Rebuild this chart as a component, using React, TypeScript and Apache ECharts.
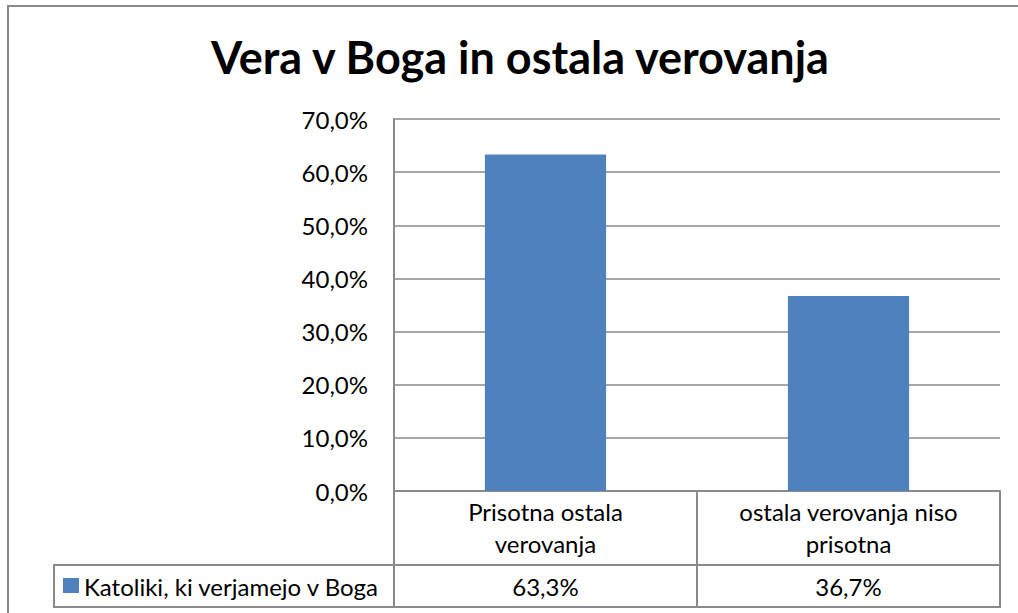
import React, { useEffect, useRef } from "react";
import * as echarts from "echarts";

const chartTitle = "Vera v Boga in ostala verovanja";
const seriesName = "Katoliki, ki verjamejo v Boga";
const categories = ["Prisotna ostala verovanja", "ostala verovanja niso prisotna"];
const values = [63.3, 36.7];
const yTicks = { min: 0, max: 70, interval: 10 };

const FONT = "Lato, 'Open Sans', sans-serif";
const GRID = "#8a8a8a";
const BAR = "#4F81BD";

const fmtPct = (v: number) => v.toFixed(1).replace(".", ",") + "%";

function wrap(s: string, max: number) {
  const words = s.split(" ");
  const lines: string[] = [];
  let cur = "";
  for (const w of words) {
    const next = cur ? cur + " " + w : w;
    if (next.length > max && cur) {
      lines.push(cur);
      cur = w;
    } else cur = next;
  }
  if (cur) lines.push(cur);
  return lines.join("\n");
}

export default function App() {
  const ref = useRef<HTMLDivElement>(null);
  useEffect(() => {
    if (!ref.current) return;
    const chart = echarts.init(ref.current, null, { renderer: "svg" });
    const lineStyle = { stroke: GRID, lineWidth: 2 };
    chart.setOption({
      animation: false,
      backgroundColor: "#ffffff",
      grid: { left: 394, right: 18, top: 119, bottom: 122, containLabel: false },
      xAxis: [
        {
          type: "category",
          data: categories,
          position: "bottom",
          axisLine: { show: true, lineStyle: { color: GRID, width: 2 } },
          axisTick: { show: true, length: 116, lineStyle: { color: GRID, width: 2 } },
          axisLabel: {
            margin: 4,
            fontFamily: FONT,
            fontSize: 24,
            lineHeight: 32,
            color: "#000",
            verticalAlign: "top",
            formatter: (v: string) => wrap(v, 21),
          },
        },
        {
          type: "category",
          data: values.map(fmtPct),
          position: "bottom",
          axisLine: { show: false },
          axisTick: { show: false },
          axisLabel: {
            margin: 79,
            fontFamily: FONT,
            fontSize: 24,
            lineHeight: 32,
            color: "#000",
            verticalAlign: "top",
          },
        },
      ],
      yAxis: {
        type: "value",
        min: yTicks.min,
        max: yTicks.max,
        interval: yTicks.interval,
        axisLine: { show: true, lineStyle: { color: GRID, width: 2 } },
        axisTick: { show: false },
        splitLine: { show: true, lineStyle: { color: GRID, width: 1.5 } },
        axisLabel: {
          margin: 26,
          fontFamily: FONT,
          fontSize: 24,
          color: "#000",
          formatter: (v: number) => fmtPct(v),
        },
      },
      series: [
        {
          name: seriesName,
          type: "bar",
          data: values,
          barWidth: "40%",
          itemStyle: { color: BAR },
        },
      ],
      graphic: [
        { type: "line", shape: { x1: 8, y1: 6, x2: 8, y2: 613 }, style: lineStyle, silent: true },
        { type: "line", shape: { x1: 7, y1: 6, x2: 1018, y2: 6 }, style: lineStyle, silent: true },
        { type: "line", shape: { x1: 54, y1: 565, x2: 1000, y2: 565 }, style: lineStyle, silent: true },
        { type: "line", shape: { x1: 54, y1: 607, x2: 1001, y2: 607 }, style: lineStyle, silent: true },
        { type: "line", shape: { x1: 54, y1: 564, x2: 54, y2: 608 }, style: lineStyle, silent: true },
        { type: "rect", shape: { x: 63, y: 578, width: 16, height: 15 }, style: { fill: BAR }, silent: true },
        {
          type: "text",
          x: 84,
          y: 586,
          style: {
            text: seriesName,
            fontFamily: FONT,
            fontSize: 24,
            fill: "#000",
            textVerticalAlign: "middle",
            textAlign: "left",
          },
          silent: true,
        },
        {
          type: "text",
          x: 520,
          y: 57,
          style: {
            text: chartTitle,
            fontFamily: FONT,
            fontSize: 45,
            fontWeight: "bold",
            fill: "#000",
            textVerticalAlign: "middle",
            textAlign: "center",
          },
          silent: true,
        },
      ],
    });
    return () => chart.dispose();
  }, []);
  return (
    <div
      ref={ref}
      style={{ position: "fixed", left: 0, top: 0, width: 1018, height: 613 }}
    />
  );
}
